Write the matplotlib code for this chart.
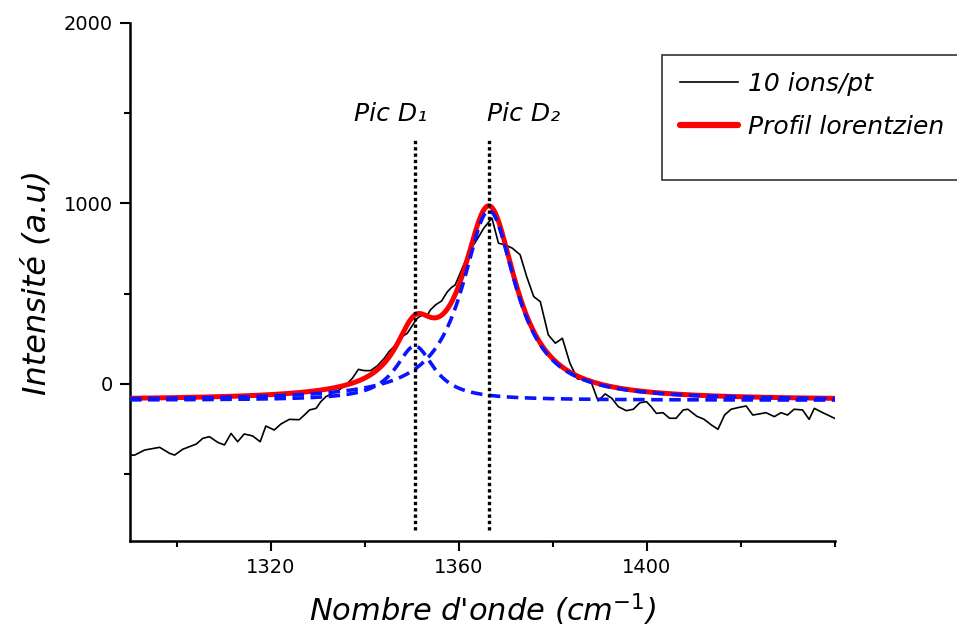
import matplotlib
matplotlib.use("Agg")
import matplotlib.pyplot as plt
import numpy as np
from matplotlib.lines import Line2D
from matplotlib.patches import Rectangle
from matplotlib.ticker import MultipleLocator

wavenumber = [1289.6, 1291.0, 1293.1, 1296.3, 1298.4, 1299.5, 1301.2, 1304.1, 1305.5,
              1306.9, 1308.7, 1310.1, 1311.5, 1312.9, 1314.3, 1316.1, 1317.7, 1318.9,
              1320.7, 1322.1, 1323.9, 1326.0, 1327.1, 1328.2, 1329.6, 1330.6, 1331.7,
              1333.1, 1334.5, 1335.9, 1337.3, 1338.6, 1339.8, 1341.2, 1342.6, 1344.1,
              1345.1, 1346.5, 1347.9, 1349.0, 1350.4, 1351.1, 1352.2, 1353.2, 1353.9,
              1355.0, 1356.3, 1357.5, 1358.4, 1359.2, 1360.7, 1362.4, 1363.8, 1365.3,
              1367.0, 1368.4, 1369.8, 1371.3, 1373.0, 1374.4, 1375.9, 1377.3, 1379.0,
              1380.5, 1382.0, 1383.6, 1385.2, 1387.9, 1389.6, 1391.1, 1392.5, 1393.9,
              1395.6, 1397.1, 1398.5, 1399.9, 1400.9, 1402.0, 1403.4, 1404.8, 1406.2,
              1407.7, 1408.7, 1410.6, 1412.1, 1413.7, 1415.1, 1416.5, 1417.9, 1419.7,
              1421.1, 1422.5, 1423.9, 1425.3, 1427.1, 1428.5, 1429.9, 1431.3, 1433.1,
              1434.5, 1435.6, 1437.4, 1439.9]
intensity = [-394, -394, -366, -351, -384, -394, -362, -333, -301,
             -292, -324, -338, -274, -320, -277, -288, -320, -233,
             -255, -222, -196, -198, -172, -144, -135, -98, -70,
             -52, -33, -6, 31, 81, 74, 74, 100, 142,
             179, 216, 262, 281, 337, 364, 383, 377, 410,
             438, 460, 510, 535, 549, 642, 743, 799, 864,
             919, 780, 771, 753, 716, 595, 484, 456, 272,
             226, 253, 115, 28, 26, -94, -55, -79, -126,
             -148, -140, -104, -98, -126, -163, -159, -190, -190,
             -144, -140, -179, -195, -227, -251, -172, -140, -129,
             -122, -172, -166, -159, -181, -159, -172, -140, -144,
             -196, -135, -159, -190]

# lorentzian fit parameters
baseline = -90
peak_names = ["Pic D\u2081", "Pic D\u2082"]
peak_centers = [1350.6, 1366.4]
peak_amplitudes = [300, 1050]
peak_hwhm = [5.0, 7.0]

FONT = "DejaVu Sans"

fig = plt.figure(figsize=(9.57, 6.32), dpi=100)
ax = fig.add_axes([130 / 957, 1 - 541 / 632, 705 / 957, 518 / 632])

xs = np.linspace(1290, 1440, 600)
comps = [baseline + a / (1 + ((xs - c) / g) ** 2)
         for c, a, g in zip(peak_centers, peak_amplitudes, peak_hwhm)]
total = baseline + sum(c - baseline for c in comps)

ax.plot(wavenumber, intensity, color="black", lw=1.2, zorder=2)
ax.plot(xs, total, color="#ff0000", lw=3.6, solid_capstyle="round", zorder=3)
for comp in comps:
    ax.plot(xs, comp, color="#0a14ff", lw=2.6, ls=(0, (3.2, 1.8)), zorder=4)

ax.vlines(peak_centers, -810, 1350, colors="black", lw=2.4, linestyles=(0, (1, 0.9)), zorder=5)
# label offsets from the dotted lines, as placed in the reference
for name, c, dx in zip(peak_names, peak_centers, [-12.9, -0.5]):
    ax.text(c + dx, 1459, name, ha="left", va="baseline", fontsize=18,
            family=FONT, style="italic")

ax.set_xlim(1290, 1440)
ax.set_ylim(-870, 2000)
ax.xaxis.set_minor_locator(MultipleLocator(20))
ax.yaxis.set_major_locator(MultipleLocator(1000))
ax.yaxis.set_minor_locator(MultipleLocator(500))
ax.set_xticks([1320, 1360, 1400])
for s in ("top", "right"):
    ax.spines[s].set_visible(False)
for s in ("left", "bottom"):
    ax.spines[s].set_linewidth(1.8)
ax.tick_params(which="major", direction="out", length=7.5, width=1.5, pad=5, labelsize=14)
ax.tick_params(which="minor", direction="out", length=4, width=1.5)
for lab in ax.get_xticklabels() + ax.get_yticklabels():
    lab.set_family(FONT)

ax.set_xlabel("Nombre d'onde (cm$^{-1}$)", fontsize=22, family=FONT, style="italic", labelpad=10)
ax.set_ylabel("Intensit\u00e9 (a.u)", fontsize=23, family=FONT, style="italic", labelpad=8)

# legend box runs off the right edge in the reference
fig.patches.append(Rectangle((662 / 957, 1 - 180 / 632), 0.32, 125 / 632,
                             transform=fig.transFigure, facecolor="white",
                             edgecolor="#333333", lw=1.2, zorder=1))
handles = [Line2D([], [], color="black", lw=1.2),
           Line2D([], [], color="#ff0000", lw=4.5, solid_capstyle="round")]
fig.legend(handles, ["10 ions/pt", "Profil lorentzien"],
           loc="upper left", bbox_to_anchor=(680 / 957, 1 - 72 / 632),
           borderaxespad=0, borderpad=0, frameon=False, handlelength=2.3,
           handletextpad=0.4, labelspacing=0.75,
           prop={"family": FONT, "style": "italic", "size": 18})

fig.savefig("out.png", dpi=100)
